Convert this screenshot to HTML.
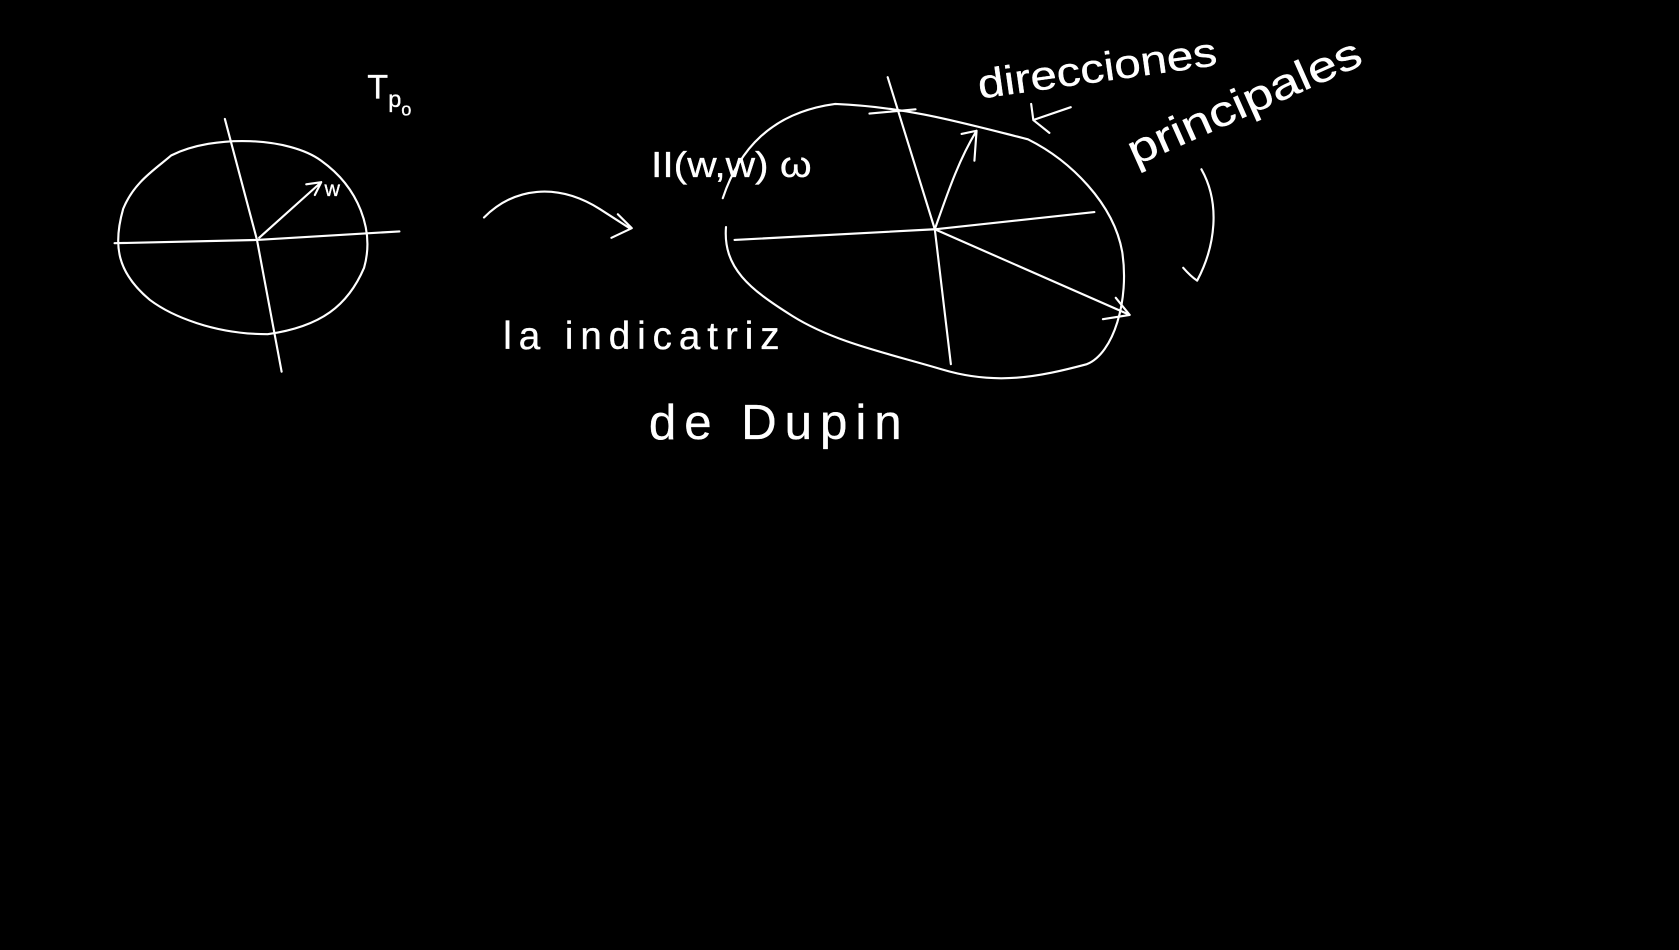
<!DOCTYPE html>
<html><head><meta charset="utf-8"><style>
html,body{margin:0;padding:0;background:#000;width:1679px;height:950px;overflow:hidden}
svg{display:block}
text{font-family:"Liberation Sans",sans-serif;fill:#fff;font-weight:300}
</style></head><body>
<svg width="1679" height="950" viewBox="0 0 1568 887" xmlns="http://www.w3.org/2000/svg">
<rect width="1568" height="887" fill="#000"/>
<g fill="none" stroke="#fff" stroke-width="2" stroke-linecap="round" stroke-linejoin="round">
 <g>
  <path d="M160,145 C200,125 270,128 300,150 C335,175 350,215 340,250 C325,285 300,305 250,312 C200,312 160,295 140,280 C110,255 105,230 115,195 C125,170 145,158 160,145 Z"/>
  <path d="M107,227 L240,224 L373,216"/>
  <path d="M210,111 L240,224 L263,347"/>
  <path d="M242,222 L300,170 M286,172 L300,170 L294,182"/>
 </g>
 <path d="M452,203 C480,175 520,170 560,195 L588,213 M571,222 L590,213 L577,200"/>
 <g>
  <path d="M675,185 C690,140 720,105 780,97 C850,100 900,115 960,130 C1000,150 1040,190 1048,235 C1055,280 1040,330 1015,340 C970,352 930,360 880,345 C830,330 780,320 740,295 C700,270 675,250 678,212"/>
  <path d="M686,224 L873,214 L1022,198"/>
  <path d="M829,72 L873,214 L888,340"/>
  <path d="M873,214 C885,180 895,150 912,122 M898,125 L912,122 L910,150"/>
  <path d="M873,214 L1055,294 M1030,298 L1055,294 L1042,278"/>
  <path d="M812,106 L855,102"/>
 </g>
 <path d="M1000,100 L965,112 L980,124 M965,112 L963,97"/>
 <path d="M1122,158 C1140,190 1135,230 1118,262 M1105,250 C1112,258 1118,262 1118,262"/>
</g>
<g stroke="#fff" stroke-width="0.3">
<text x="343" y="92" font-size="32">T<tspan font-size="22" dy="8">p</tspan><tspan font-size="17" dy="8">o</tspan></text>
<text x="303" y="183" font-size="20">w</text>
<text x="608" y="165" font-size="34" textLength="150" lengthAdjust="spacingAndGlyphs">II(w,w)  ω</text>
<text x="915" y="92" font-size="38" textLength="225" lengthAdjust="spacingAndGlyphs" transform="rotate(-8 915 92)">direcciones</text>
<text x="1060" y="155" font-size="40" textLength="235" lengthAdjust="spacingAndGlyphs" transform="rotate(-24 1060 155)">principales</text>
<text x="470" y="326" font-size="36" textLength="258" lengthAdjust="spacing">la  indicatriz</text>
<text x="606" y="410" font-size="46" textLength="236" lengthAdjust="spacing">de  Dupin</text>
</g>
</svg>
</body></html>
